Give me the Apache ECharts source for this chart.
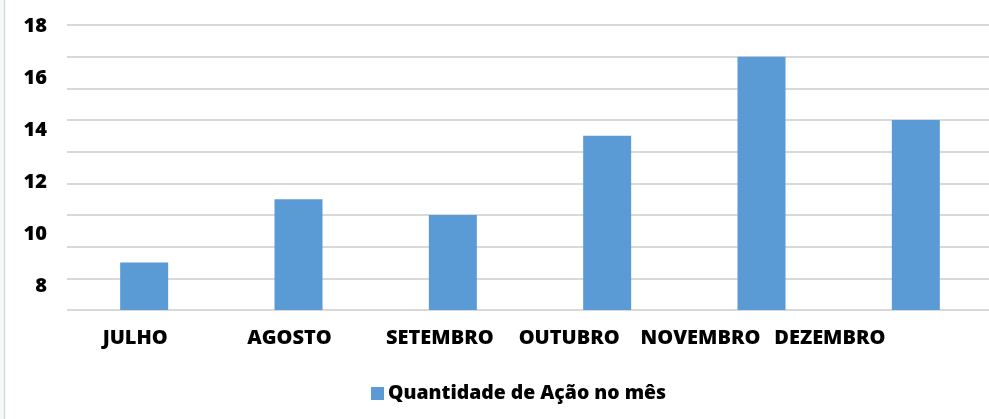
<!DOCTYPE html>
<html>
<head>
<meta charset="utf-8">
<script src="https://cdn.jsdelivr.net/npm/echarts@6/dist/echarts.min.js"></script>
<style>
  html, body { margin: 0; padding: 0; background: #fff; }
  #main { width: 989px; height: 419px; }
</style>
</head>
<body>
<div id="main"></div>
<script>
// dados
const months = ['JULHO', 'AGOSTO', 'SETEMBRO', 'OUTUBRO', 'NOVEMBRO', 'DEZEMBRO'];
const acoes = [3, 7, 6, 11, 16, 12];
const yTicks = [8, 10, 12, 14, 16, 18];
const seriesName = 'Quantidade de Ação no mês';

// deslocamento dos rótulos do eixo x (px para a esquerda), como no original
const labelShift = [9, 9, 13, 38, 61, 86];

const chart = echarts.init(document.getElementById('main'), null, { renderer: 'canvas' });
const font = '"Open Sans", "Noto Sans", sans-serif';
const weight = 800;

// rich styles por categoria, com padding para deslocar o texto
let rich = {};
months.forEach(function (m, i) {
  rich['m' + i] = {
    fontFamily: font, fontWeight: weight, fontSize: 20, color: '#000',
    lineHeight: 22, padding: [0, labelShift[i] * 2, 0, 0]
  };
});

let option = {
  backgroundColor: '#ffffff',
  animation: false,
  color: ['#5b9bd5'],
  graphic: [
    { type: 'rect', shape: { x: 0, y: 0, width: 4, height: 419 }, style: { fill: '#f4fbf6' }, silent: true },
    { type: 'line', shape: { x1: 4.5, y1: 0, x2: 4.5, y2: 419 }, style: { stroke: '#dcdcdc', lineWidth: 1.5 }, silent: true }
  ],
  legend: {
    data: [seriesName],
    left: 366,
    top: 379,
    icon: 'rect',
    itemWidth: 13,
    itemHeight: 13,
    textStyle: { fontFamily: font, fontWeight: weight, fontSize: 19.4, color: '#000', padding: [0, 0, 0, -1] }
  },
  grid: [
    { left: 67, width: 926, top: 25, height: 285, outerBoundsMode: 'none', containLabel: false },
    { left: 50, width: 10, top: 26, height: 312, outerBoundsMode: 'none', containLabel: false }
  ],
  xAxis: [
    {
      type: 'category',
      gridIndex: 0,
      data: months,
      axisLine: { show: false },
      axisTick: { show: false },
      axisLabel: {
        interval: 0,
        margin: 17,
        formatter: function (v) {
          return '{m' + months.indexOf(v) + '|' + v + '}';
        },
        rich: rich
      }
    },
    { type: 'category', gridIndex: 1, data: [''], show: false }
  ],
  yAxis: [
    {
      type: 'value',
      gridIndex: 0,
      min: 0,
      max: 18,
      interval: 2,
      axisLabel: { show: false },
      axisLine: { show: false },
      axisTick: { show: false },
      splitLine: { lineStyle: { color: '#d9d9d9', width: 2 } }
    },
    {
      // eixo só para os rótulos, como aparecem na figura
      type: 'value',
      gridIndex: 1,
      min: 6,
      max: 18,
      interval: 2,
      axisLine: { show: false },
      axisTick: { show: false },
      splitLine: { show: false },
      axisLabel: {
        margin: 3,
        fontFamily: font,
        fontWeight: weight,
        fontSize: 20,
        color: '#000',
        formatter: function (v) {
          return yTicks.indexOf(v) >= 0 ? String(v) : '';
        }
      }
    }
  ],
  series: [
    {
      name: seriesName,
      type: 'bar',
      xAxisIndex: 0,
      yAxisIndex: 0,
      barWidth: 48,
      data: acoes
    }
  ]
};

chart.setOption(option);
</script>
</body>
</html>
